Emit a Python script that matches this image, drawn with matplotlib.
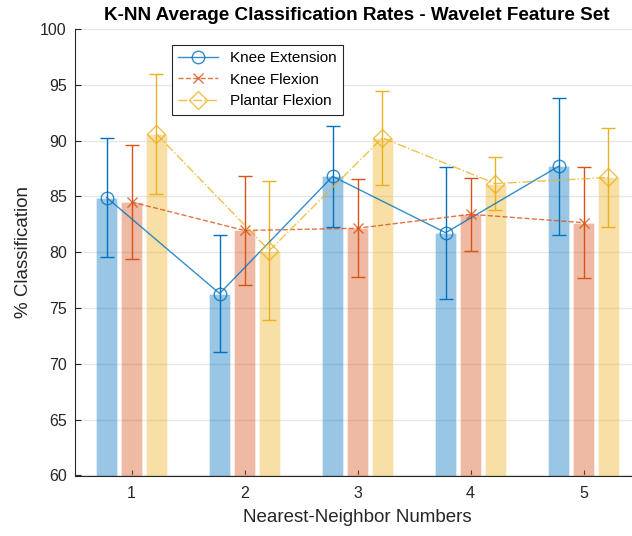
import numpy as np
import matplotlib.pyplot as plt

plt.rcParams['font.family'] = ['Liberation Sans', 'DejaVu Sans']

# -----------------------
# Data
# -----------------------
k_values = [1, 2, 3, 4, 5]
series = ['Knee Extension', 'Knee Flexion', 'Plantar Flexion']

knee_ext = [84.9, 76.3, 86.8, 81.75, 87.7]
knee_ext_err = [5.35, 5.25, 4.55, 5.9, 6.15]

knee_flex = [84.5, 81.95, 82.15, 83.4, 82.65]
knee_flex_err = [5.1, 4.85, 4.4, 3.25, 4.95]

plantar_flex = [90.6, 80.15, 90.25, 86.15, 86.7]
plantar_flex_err = [5.35, 6.2, 4.2, 2.4, 4.4]

# MATLAB default colours
colors = ['#0072BD', '#D95319', '#EDB120']
styles = ['-', '--', '-.']
markers = ['o', 'x', 'D']
offsets = [-0.22, 0.0, 0.22]
bar_w = 0.18

means = [knee_ext, knee_flex, plantar_flex]
errs = [knee_ext_err, knee_flex_err, plantar_flex_err]

# Plot
# ------------------------------------------------------------------
fig = plt.figure(figsize=(6.32, 5.36), dpi=100)
ax = fig.add_axes([75/632, 60.5/536, 565/632, 446.5/536])

x = np.array(k_values, dtype=float)

for m, c, o in zip(means, colors, offsets):
    ax.bar(x + o, m, width=bar_w, color=c, alpha=0.4, edgecolor='white',
           linewidth=0.6, zorder=2)

for m, e, c, ls, mk, o, name in zip(means, errs, colors, styles, markers, offsets, series):
    ax.errorbar(x + o, m, yerr=e, color=c, linestyle='none', elinewidth=1.0,
                capsize=5, capthick=1.0, zorder=3)
    ax.plot(x + o, m, color=c, linestyle=ls, linewidth=1.0, alpha=0.8,
            marker=mk, markersize=9 if mk != 'x' else 7,
            markerfacecolor='none', markeredgecolor=c, markeredgewidth=1.0,
            label=name, zorder=4)

ax.set_xlim(0.5, 5.5)
ax.set_ylim(60, 100)
ax.set_xticks(k_values)
ax.set_yticks(np.arange(60, 101, 5))
ax.tick_params(direction='in', labelsize=11.5, colors='#262626', length=4)
ax.tick_params(axis='x', pad=7.5)
ax.tick_params(axis='y', pad=6)
ax.spines['top'].set_visible(False)
ax.spines['right'].set_visible(False)
ax.spines['left'].set_color('#262626')
ax.spines['bottom'].set_color('#262626')
ax.grid(True, axis='y', color='#e6e6e6', linewidth=1.0, zorder=0)
ax.set_axisbelow(True)

ax.set_xlabel('Nearest-Neighbor Numbers', fontsize=13.5, color='#262626', labelpad=6)
ax.set_ylabel('% Classification', fontsize=13.5, color='#262626', labelpad=6)
fig.text(357/632, 1 - 15.5/536, 'K-NN Average Classification Rates - Wavelet Feature Set',
         ha='center', va='center', fontsize=13.6, fontweight='bold')

leg = ax.legend(loc='upper left', bbox_to_anchor=(0.172, 0.964), borderaxespad=0,
                fontsize=11, fancybox=False, framealpha=1, edgecolor='#262626',
                handlelength=2.6)
leg.get_frame().set_linewidth(0.8)

fig.savefig('out.png', dpi=100)
